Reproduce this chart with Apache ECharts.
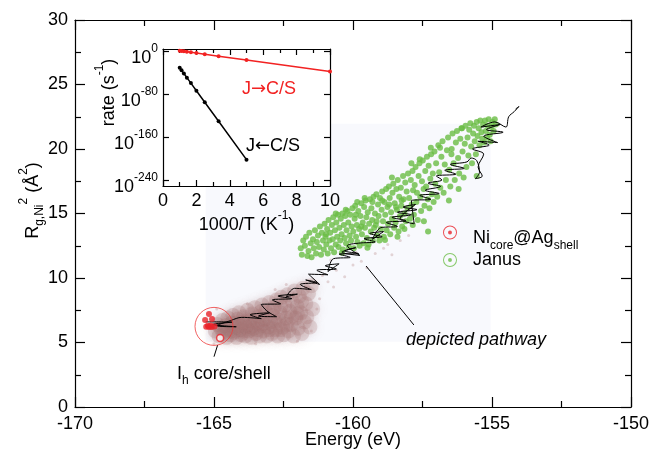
<!DOCTYPE html>
<html><head><meta charset="utf-8">
<script src="https://cdn.jsdelivr.net/npm/echarts@6/dist/echarts.min.js"></script>
<style>html,body{margin:0;padding:0;background:#fff}#c{width:650px;height:454px}</style>
</head><body><div id="c"></div>
<script>
const FONT = '"Liberation Sans", Arial, Helvetica, sans-serif';

// ---------- main panel ----------
const energyRange = [-170, -150];
const energyStep = 5;
const rgRange = [0, 30];
const rgStep = 5;

// Ih core/shell (red) points
const ihPoints = [[-165.18,7.21],[-165.07,6.82],[-165.32,6.74],[-165.28,6.22],[-165.18,6.2],[-165.08,6.2],[-164.98,6.24],[-165.12,6.32],[-165.22,6.3]];
const ihOpenPoint = [[-164.78,5.35]];
const ihCircleCenter = [[-165.0,6.25]];

// Janus (green) points
const janusPoints = [
[-161.88,12.3],[-161.84,11.8],[-161.79,12.9],[-161.73,12.5],[-161.69,13.2],[-161.64,11.7],[-161.6,12.1],[-161.57,13.5],[-161.52,12.7],[-161.49,11.6],[-161.44,13.0],[-161.41,12.3],[-161.37,13.7],[-161.33,11.9],[-161.3,12.8],[-161.26,13.3],[-161.22,12.4],[-161.19,14.0],[-161.15,11.8],[-161.12,13.5],[-161.08,12.9],[-161.05,12.2],[-161.02,14.2],[-160.99,13.2],[-160.96,12.6],
[-160.93,13.8],[-160.91,11.9],[-160.88,14.5],[-160.85,12.9],[-160.82,13.5],[-160.79,12.3],[-160.76,14.1],[-160.73,13.0],[-160.71,14.7],[-160.68,12.0],[-160.65,13.7],[-160.62,12.6],[-160.6,14.3],[-160.57,13.2],[-160.54,14.9],[-160.52,12.4],[-160.49,13.9],[-160.46,12.9],[-160.44,14.6],[-160.41,13.4],[-160.38,15.0],[-160.36,12.2],[-160.33,14.1],[-160.3,13.1],[-160.28,14.8],[-160.25,12.7],[-160.23,13.7],[-160.2,15.2],[-160.17,14.3],[-160.15,12.4],[-160.12,13.3],[-160.1,14.9],[-160.07,12.9],[-160.05,14.0],[-160.02,15.4],[-159.99,13.6],[-160.4,11.95],[-160.97,13.4],[-160.62,15.0],[-160.26,15.3],
[-159.97,12.3],[-159.94,14.6],[-159.92,15.6],[-159.89,13.2],[-159.86,14.1],[-159.84,12.8],[-159.81,15.2],[-159.78,13.8],[-159.76,12.5],[-159.73,14.8],[-159.7,15.8],[-159.68,13.4],[-159.65,14.3],[-159.62,12.7],[-159.6,15.5],[-159.57,13.9],[-159.55,16.0],[-159.52,14.7],[-159.5,13.1],[-159.47,15.1],[-159.44,12.6],[-159.42,14.2],[-159.39,16.1],[-159.36,13.6],[-159.34,15.4],[-159.31,14.5],[-159.29,12.9],[-159.26,16.3],[-159.24,13.9],[-159.21,15.0],[-159.18,14.1],[-159.16,16.5],[-159.13,13.3],[-159.1,15.7],[-159.08,14.8],[-159.05,12.9],[-159.03,16.2],[-159.0,13.8],[-159.58,16.2],[-159.85,15.9],[-159.3,15.9],[-159.48,12.35],[-159.9,14.9],[-159.7,14.0],[-159.15,14.4],
[-158.97,15.3],[-158.95,16.7],[-158.92,14.4],[-158.89,13.2],[-158.87,15.9],[-158.84,14.9],[-158.81,16.9],[-158.79,13.7],[-158.76,15.5],[-158.74,14.2],[-158.71,17.1],[-158.68,16.2],[-158.66,13.4],[-158.63,15.1],[-158.6,14.6],[-158.58,16.6],[-158.55,17.3],[-158.52,13.9],[-158.5,15.8],[-158.47,14.3],[-158.44,16.9],[-158.42,15.3],[-158.39,17.6],[-158.36,13.6],[-158.34,16.3],[-158.31,14.8],[-158.28,17.0],[-158.26,15.6],[-158.23,14.0],[-158.2,17.9],[-158.18,16.1],[-158.15,15.0],[-158.12,17.4],[-158.1,14.4],[-158.07,16.7],[-158.04,15.4],[-158.02,18.1],[-158.85,12.95],[-158.6,17.8],[-158.4,13.2],[-158.95,16.0],[-158.25,16.0],[-158.7,15.7],[-158.45,15.5],[-158.15,13.8],
[-157.98,16.2],[-157.95,14.6],[-157.92,17.6],[-157.89,15.7],[-157.86,18.3],[-157.84,16.8],[-157.81,14.9],[-157.78,17.2],[-157.75,18.6],[-157.72,15.9],[-157.7,16.6],[-157.67,14.5],[-157.64,17.9],[-157.61,18.9],[-157.58,16.3],[-157.55,15.2],[-157.52,17.5],[-157.49,19.1],[-157.46,16.9],[-157.43,15.6],[-157.4,18.3],[-157.37,17.1],[-157.34,19.4],[-157.31,16.1],[-157.28,18.7],[-157.25,15.4],[-157.22,17.7],[-157.19,19.6],[-157.16,16.5],[-157.13,18.1],[-157.1,15.9],[-157.07,19.8],[-157.04,17.3],[-157.01,18.9],[-157.85,14.1],[-157.45,14.4],[-157.6,19.2],[-157.3,13.6],[-157.2,20.1],[-157.9,18.9],
[-156.97,16.3],[-156.93,20.3],[-156.9,18.2],[-156.86,17.0],[-156.82,19.4],[-156.78,20.6],[-156.74,16.6],[-156.7,18.8],[-156.66,17.6],[-156.62,19.9],[-156.58,20.9],[-156.54,18.4],[-156.5,17.1],[-156.46,19.6],[-156.42,21.2],[-156.38,18.9],[-156.34,17.6],[-156.3,20.5],[-156.26,21.4],[-156.22,19.3],[-156.18,18.1],[-156.14,20.8],[-156.1,21.6],[-156.06,19.8],[-156.02,17.8],[-156.87,20.1],[-156.08,21.6],[-156.55,16.0],[-156.2,16.9],[-156.45,20.0],
[-155.98,20.4],[-155.95,21.8],[-155.92,18.6],[-155.88,20.9],[-155.85,19.5],[-155.82,21.5],[-155.78,22.0],[-155.75,20.2],[-155.72,18.9],[-155.68,21.2],[-155.65,21.8],[-155.62,20.6],[-155.58,19.6],[-155.55,22.1],[-155.52,21.0],[-155.48,21.6],[-155.45,20.3],[-155.42,22.2],[-155.38,21.3],[-155.35,20.8],[-155.32,21.9],[-155.28,20.5],[-155.25,22.2],[-155.22,21.4],[-155.18,20.9],[-155.15,21.8],[-155.12,22.3],[-155.08,21.1],[-155.05,20.6],[-155.02,21.7],[-154.98,22.1],[-154.94,21.4],[-154.9,22.3],[-154.86,21.9],[-155.55,17.9]
];

// dense sampled-structure cloud (brown)
const cloudPoints = [
[-164.95,5.9],[-164.88,6.4],[-164.82,5.5],[-164.76,6.1],[-164.7,6.7],[-164.66,5.7],[-164.6,6.3],[-164.55,5.4],[-164.5,6.9],[-164.46,6.0],[-164.41,5.6],[-164.37,6.5],[-164.32,7.1],[-164.28,5.8],[-164.24,6.2],[-164.19,5.4],[-164.15,6.8],[-164.1,7.3],[-164.06,6.0],[-164.02,5.6],[-163.97,6.5],[-163.93,7.0],[-163.88,5.5],[-163.84,6.2],[-163.8,7.5],[-163.75,5.9],[-163.7,6.7],[-163.66,5.4],[-163.62,7.2],[-163.57,6.1],[-163.53,7.7],[-163.49,5.7],[-163.44,6.5],[-163.4,7.0],[-163.36,5.5],[-163.31,6.3],[-163.27,7.9],[-163.22,5.9],[-163.18,6.8],[-163.14,7.4],[-163.1,5.5],[-163.05,6.2],[-163.01,8.1],[-162.97,6.6],[-162.92,5.7],[-162.88,7.1],[-162.84,7.7],[-162.79,6.0],[-162.75,8.3],[-162.71,5.5],[-162.66,6.7],[-162.62,7.3],[-162.58,8.5],[-162.53,6.2],[-162.49,5.6],[-162.45,7.9],[-162.4,6.9],[-162.36,8.7],[-162.32,5.9],[-162.27,7.4],[-162.23,6.4],[-162.19,8.2],[-162.14,5.5],[-162.1,9.0],[-162.06,6.9],[-162.01,7.8],[-161.97,6.1],[-161.93,8.6],[-161.88,7.3],[-161.84,5.7],[-161.8,9.2],[-161.75,6.6],[-161.7,8.0],[-161.66,7.0],[-161.6,8.8],[-161.55,6.2],[-161.5,9.4],[-161.45,7.6],
[-164.4,5.9],[-164.2,6.5],[-163.95,5.9],[-163.7,6.2],[-163.45,6.0],[-163.25,6.5],[-163.0,6.0],[-162.8,6.6],[-162.6,6.0],[-162.4,6.4],[-163.6,6.6],[-163.9,6.6],[-164.1,6.3],[-162.9,7.5],[-163.3,7.4],[-162.6,7.8],[-164.6,5.9],[-162.2,7.0],[-162.0,7.2],[-161.85,8.2]
];
const cloudDots = [
[-161.4,9.6],[-161.1,10.2],[-160.9,9.7],[-160.6,10.6],[-160.3,10.1],[-160.0,11.0],[-159.7,11.3],
[-159.5,10.8],[-159.2,11.9],[-158.9,12.3],[-158.6,11.8],[-158.3,12.9],[-158.0,13.3],[-160.8,11.4],
[-161.7,9.3],[-162.4,9.5],[-164.9,7.6],[-165.0,4.9],[-163.5,4.9],[-162.0,5.1],[-161.5,5.9],
[-161.3,7.6],[-159.9,12.0],[-158.75,12.6],[-161.2,8.4],[-160.7,9.3],[-162.8,9.1],[-163.8,8.0]
];

// depicted pathway (black)
const pathway = [
[-165.3,6.6],[-164.35,6.58],[-165.05,6.4],[-164.2,6.22],[-164.9,6.3],[-164.4,6.7],
[-164.0,6.95],[-163.3,6.85],[-163.7,7.15],[-163.0,7.3],[-163.4,7.05],[-162.75,7.0],[-163.1,7.45],
[-163.3,7.95],[-162.6,8.0],[-162.9,8.3],[-162.2,8.4],[-162.7,8.6],[-162.0,8.75],[-162.4,8.55],
[-162.1,9.2],[-161.5,9.1],[-161.9,9.5],[-161.3,9.65],[-161.7,9.85],[-161.2,9.5],
[-161.6,10.3],[-160.9,10.25],[-161.3,10.6],[-160.6,10.7],[-161.0,10.95],[-160.5,11.1],[-160.9,10.5],
[-160.7,11.5],[-160.1,11.6],[-160.5,11.85],[-159.8,11.9],[-160.3,12.1],[-159.9,12.35],[-160.4,12.0],[-159.75,11.75],[-160.2,12.5],
[-159.8,12.7],[-159.2,12.8],[-159.6,13.05],[-158.95,13.2],[-159.4,13.45],[-158.9,13.6],[-159.3,13.0],
[-159.0,13.9],[-158.4,14.0],[-158.8,14.3],[-158.1,14.45],[-158.6,14.7],[-157.9,14.9],[-158.4,15.1],[-157.7,15.3],[-158.2,15.5],[-157.75,15.7],[-158.3,14.6],[-157.8,14.2],
[-157.9,16.0],[-157.2,16.1],[-157.6,16.4],[-156.9,16.55],[-157.4,16.8],[-156.85,17.1],[-157.3,17.35],[-156.8,17.6],
[-157.0,17.9],[-156.3,18.05],[-156.7,18.35],[-156.0,18.5],[-156.5,18.8],[-155.9,19.0],
[-155.75,19.3],[-155.55,19.1],[-155.45,18.2],[-155.6,17.7],[-155.35,17.9],[-155.5,18.6],[-155.3,19.6],
[-155.7,20.0],[-155.1,20.3],[-155.5,20.6],[-154.8,20.5],[-155.3,21.0],[-154.6,21.3],[-155.2,21.5],[-154.7,21.9],[-155.4,21.7],[-154.9,22.1],[-154.5,21.7],
[-154.4,22.5],[-154.2,22.9],[-154.03,23.3],[-154.15,23.1]
];

// shaded image backdrop and annotation arrows (data coords)
const backdrop = [[-165.3, 5.05], [-155.05, 21.95]];
const pathwayArrow = [[-157.81, 6.36], [-159.53, 10.93]];
const ihArrow = [[-165.0, 3.9], [-164.87, 4.8]];

// ---------- inset ----------
const invTemp = [1.0, 1.11, 1.25, 1.43, 1.67, 2.0, 2.5, 3.33, 5.0, 10.0];
const log10RateJtoCS = [1.7, 1.2, 0.6, -0.1, -1.2, -2.6, -4.7, -8.3, -15.5, -37];
const log10RateCStoJ = [-30, -34.7, -40.7, -48.3, -58.5, -72.7, -94, -129.6, -201];
const insetYTicks = [0, -80, -160, -240];
const insetXRange = [0, 10];
const insetYRange = [-250, 5];
const roomTempInv = 3.33;

const RICH = {
  b:  {fontFamily: FONT, fontSize: 18, lineHeight: 18, padding: [6,0,0,0], verticalAlign: 'top', color: '#000'},
  bl: {fontFamily: FONT, fontSize: 18, lineHeight: 18, padding: [6,0,0,26], verticalAlign: 'top', color: '#000'},
  bl2:{fontFamily: FONT, fontSize: 18, lineHeight: 18, padding: [6,0,0,50], verticalAlign: 'top', color: '#000'},
  sp: {fontFamily: FONT, fontSize: 12, lineHeight: 12, verticalAlign: 'top', color: '#000'},
  sb: {fontFamily: FONT, fontSize: 12, lineHeight: 12, padding: [16,0,0,0], verticalAlign: 'top', color: '#000'}
};
const ARROWRICH = {
  t: {fontFamily: FONT, fontSize: 18},
  a: {fontFamily: '"DejaVu Sans"', fontSize: 18}
};

const ringIcon = 'path://M10,0A10,10,0,1,1,10,20A10,10,0,1,1,10,0ZM10,1.4A8.6,8.6,0,1,0,10,18.6A8.6,8.6,0,1,0,10,1.4ZM10,7.2A2.8,2.8,0,1,1,10,12.8A2.8,2.8,0,1,1,10,7.2Z';

const axLine = {show: true, onZero: false, lineStyle: {color: '#000', width: 1.2}};
const tickStyle = {color: '#000', width: 1.2};

function mainX(pos, labels) {
  return {
    gridIndex: 0, type: 'value', position: pos, min: energyRange[0], max: energyRange[1], interval: energyStep,
    axisLine: axLine, axisTick: {show: true, inside: true, length: 10, lineStyle: tickStyle},
    minorTick: {show: true, splitNumber: 2, length: 6, lineStyle: tickStyle},
    axisLabel: {show: labels, fontFamily: FONT, fontSize: 18, color: '#000', margin: 8},
    splitLine: {show: false}, minorSplitLine: {show: false},
    name: labels ? 'Energy (eV)' : '', nameLocation: 'middle', nameGap: 24, nameMoveOverlap: false,
    nameTextStyle: {fontFamily: FONT, fontSize: 18, color: '#000', verticalAlign: 'top'}
  };
}
function mainY(pos, labels) {
  return {
    gridIndex: 0, type: 'value', position: pos, min: rgRange[0], max: rgRange[1], interval: rgStep,
    axisLine: axLine, axisTick: {show: true, inside: true, length: 10, lineStyle: tickStyle},
    minorTick: {show: true, splitNumber: 2, length: 6, lineStyle: tickStyle},
    axisLabel: {show: labels, fontFamily: FONT, fontSize: 18, color: '#000', margin: 7},
    splitLine: {show: false}, minorSplitLine: {show: false},
    name: labels ? '{bl|R}{sb|g,Ni}{sp|2}{b| (Å}{sp|2}{b|)}' : '', nameLocation: 'middle', nameGap: 39, nameRotate: 90,
    nameMoveOverlap: false,
    nameTextStyle: {fontFamily: FONT, fontSize: 18, color: '#000', rich: RICH}
  };
}
function insetX(pos, labels) {
  return {
    gridIndex: 1, type: 'value', position: pos, min: insetXRange[0], max: insetXRange[1], interval: 2, z: 9,
    axisLine: axLine, axisTick: {show: true, inside: true, length: 6, lineStyle: tickStyle},
    minorTick: {show: true, splitNumber: 2, length: 4, lineStyle: tickStyle},
    axisLabel: {show: labels, fontFamily: FONT, fontSize: 18, color: '#000', margin: 6},
    splitLine: {show: false},
    name: labels ? '{b|1000/T (K}{sp|-1}{b|)}' : '', nameLocation: 'middle', nameGap: 24, nameMoveOverlap: false,
    nameTextStyle: {fontFamily: FONT, fontSize: 18, color: '#000', rich: RICH, verticalAlign: 'top'}
  };
}
function insetY(pos, labels) {
  return {
    gridIndex: 1, type: 'value', position: pos, min: insetYRange[0], max: insetYRange[1], z: 9,
    axisLine: axLine,
    axisTick: {show: true, inside: true, length: 6, lineStyle: tickStyle, customValues: insetYTicks},
    axisLabel: {show: labels, margin: 5, customValues: insetYTicks, rich: RICH,
      formatter: v => '{b|10}{sp|' + Math.round(v) + '}'},
    splitLine: {show: false},
    name: labels ? '{bl2|rate (s}{sp|-1}{b|)}' : '', nameLocation: 'middle', nameGap: 51, nameRotate: 90,
    nameMoveOverlap: false,
    nameTextStyle: {fontFamily: FONT, fontSize: 18, color: '#000', rich: RICH}
  };
}

const chart = echarts.init(document.getElementById('c'), null, {renderer: 'canvas'});
chart.setOption({
  animation: false,
  backgroundColor: '#fff',
  textStyle: {fontFamily: FONT},
  grid: [
    {left: 75, right: 19, top: 20, bottom: 47, show: false, containLabel: false, outerBoundsMode: 'none'},
    {left: 163, top: 49, width: 167, height: 137, show: true, backgroundColor: '#fff', borderWidth: 0, z: 8,
     containLabel: false, outerBoundsMode: 'none'}
  ],
  xAxis: [mainX('bottom', true), mainX('top', false), insetX('bottom', true), insetX('top', false)],
  yAxis: [mainY('left', true), mainY('right', false), insetY('left', true), insetY('right', false)],
  legend: [
    {data: ['NiAg'], left: 438, top: 218.5, itemWidth: 36, itemHeight: 14, icon: ringIcon,
     formatter: () => '{b|Ni}{sb|core}{b|@Ag}{sb|shell}',
     textStyle: {fontFamily: FONT, fontSize: 18, color: '#000', rich: RICH}, selectedMode: false},
    {data: ['Janus'], left: 438, top: 246, itemWidth: 36, itemHeight: 14, icon: ringIcon,
     textStyle: {fontFamily: FONT, fontSize: 18, color: '#000'}, selectedMode: false}
  ],
  series: [
    {type: 'scatter', name: 'backdrop', xAxisIndex: 0, yAxisIndex: 0, data: [], z: 1, silent: true,
     markArea: {silent: true, itemStyle: {color: '#f8f9fd'},
       data: [[{coord: backdrop[0]}, {coord: backdrop[1]}]]}},
    {type: 'scatter', name: 'cloud', xAxisIndex: 0, yAxisIndex: 0, data: cloudPoints, z: 2, silent: true,
     symbolSize: 15, itemStyle: {color: 'rgba(168,118,118,0.3)', shadowBlur: 10, shadowColor: 'rgba(168,118,118,0.6)'}},
    {type: 'scatter', name: 'clouddots', xAxisIndex: 0, yAxisIndex: 0, data: cloudDots, z: 2, silent: true,
     symbolSize: 3, itemStyle: {color: 'rgba(180,130,130,0.4)'}},
    {type: 'scatter', name: 'Janus', xAxisIndex: 0, yAxisIndex: 0, data: janusPoints, z: 3,
     symbolSize: 6, itemStyle: {color: '#6abd45'}},
    {type: 'line', name: 'pathway', xAxisIndex: 0, yAxisIndex: 0, data: pathway, z: 4, showSymbol: false,
     symbol: 'none', smooth: 0.35, lineStyle: {color: '#000', width: 1}, silent: true},
    {type: 'scatter', name: 'NiAg', xAxisIndex: 0, yAxisIndex: 0, data: ihPoints, z: 5,
     symbolSize: 6, itemStyle: {color: '#e8232b'}},
    {type: 'scatter', name: 'ihOpen', xAxisIndex: 0, yAxisIndex: 0, data: ihOpenPoint, z: 5,
     symbolSize: 7, itemStyle: {color: '#fff', borderColor: '#e8232b', borderWidth: 1.5}},
    {type: 'scatter', name: 'ihCircle', xAxisIndex: 0, yAxisIndex: 0, data: ihCircleCenter, z: 5, silent: true,
     symbolSize: 38, itemStyle: {color: 'rgba(0,0,0,0)', borderColor: '#ee3b3b', borderWidth: 1},
     markLine: {silent: true, symbol: ['none', 'arrow'], symbolSize: [0, 8], label: {show: false},
       lineStyle: {color: '#000', width: 1, type: 'solid'},
       data: [[{coord: pathwayArrow[0]}, {coord: pathwayArrow[1]}], [{coord: ihArrow[0]}, {coord: ihArrow[1]}]]}},
    {type: 'line', name: 'JtoCS', xAxisIndex: 2, yAxisIndex: 2, z: 10,
     data: invTemp.map((x, i) => [x, log10RateJtoCS[i]]),
     symbol: 'circle', symbolSize: 4, lineStyle: {color: '#f22222', width: 1.5}, itemStyle: {color: '#f22222'},
     markLine: {silent: true, symbol: 'none', label: {show: false},
       lineStyle: {color: '#555', width: 1, type: [4, 3]}, data: [{xAxis: roomTempInv}]}},
    {type: 'line', name: 'CStoJ', xAxisIndex: 2, yAxisIndex: 2, z: 10,
     data: log10RateCStoJ.map((y, i) => [invTemp[i], y]),
     symbol: 'circle', symbolSize: 4, lineStyle: {color: '#000', width: 1.5}, itemStyle: {color: '#000'}}
  ],
  graphic: [
    {type: 'text', x: 242, y: 89, z: 20, style: {text: '{t|J}{a|→}{t|C/S}', rich: ARROWRICH, fill: '#f22222', verticalAlign: 'middle'}},
    {type: 'text', x: 246, y: 146, z: 20, style: {text: '{t|J}{a|←}{t|C/S}', rich: ARROWRICH, fill: '#000', verticalAlign: 'middle'}},
    {type: 'text', x: 406, y: 340, z: 20, style: {text: 'depicted pathway', fill: '#000', font: 'italic 18px ' + FONT, verticalAlign: 'middle'}},
    {type: 'text', x: 177, y: 368, z: 20, style: {text: '{b|I}{sb|h}{b| core/shell}', rich: RICH, verticalAlign: 'middle'}}
  ]
});
</script></body></html>
